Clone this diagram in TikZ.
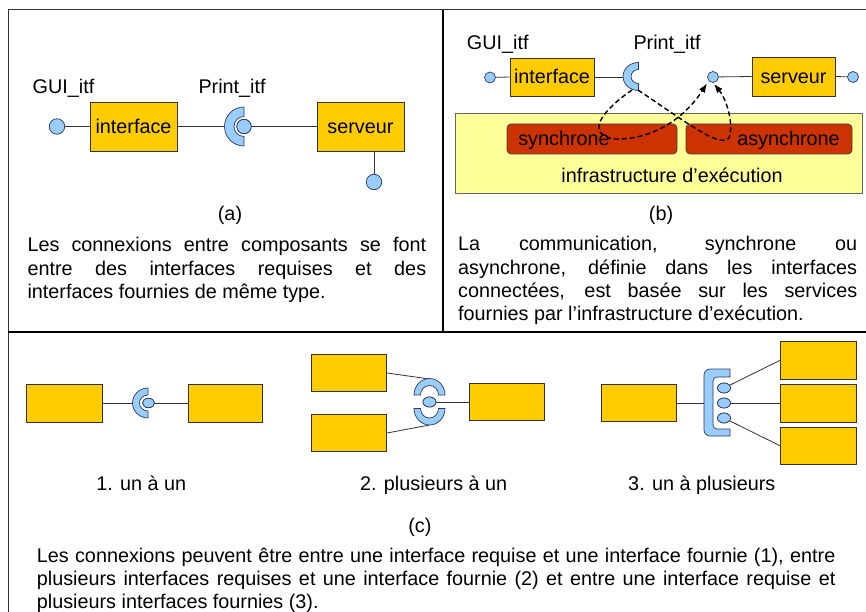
\documentclass[tikz,border=0pt]{standalone}
\usepackage{fontspec}
\setmainfont{Liberation Sans}
\usetikzlibrary{shapes.geometric,arrows.meta}
\definecolor{boxyellow}{HTML}{FFCC00}
\definecolor{ballblue}{HTML}{99CCFF}
\definecolor{ballrim}{HTML}{2B3A55}
\definecolor{infrayellow}{HTML}{FFFF99}
\definecolor{callred}{HTML}{CC3300}
\definecolor{wire}{HTML}{333333}
% one justified line of a paragraph
\newcommand\jline[2]{\makebox[#1][s]{#2}}
\begin{document}
\begin{tikzpicture}[x=1pt,y=-1pt,
  font=\fontsize{19.8}{23.3}\selectfont,
  comp/.style={draw=black!80, fill=boxyellow, line width=0.7pt, inner sep=0pt,
    text height=14pt, text depth=0pt},
  ball/.style={ellipse, draw=ballrim, fill=ballblue, line width=0.7pt, inner sep=0pt},
  sockfill/.style={draw=ballrim, fill=ballblue, line width=0.7pt},
  wireline/.style={draw=wire, line width=0.8pt},
  flow/.style={draw=black, line width=1.4pt, dash pattern=on 5pt off 3pt,
    -{Latex[length=9pt,width=7pt]}},
  lbl/.style={anchor=base, inner sep=0pt},
  lblw/.style={anchor=base west, inner sep=0pt},
  para/.style={anchor=base west, inner sep=0pt},
  infra/.style={draw=black!60, fill=infrayellow, line width=0.8pt, inner sep=0pt},
  call/.style={draw=black!75, fill=callred, rounded corners=4pt, line width=0.7pt, inner sep=0pt},
  framebold/.style={draw=black, line width=2.2pt},
  framethin/.style={draw=black!80, line width=1pt}]
\useasboundingbox (0,0) rectangle (866,612);

% ---------- frame ----------
\draw[framethin] (8,10) -- (866,10);
\draw[framethin] (8,10) -- (8,612);
\draw[draw=black, line width=1.5pt] (443,10) -- (443,332);
\draw[framebold] (8,332) -- (866,332);

% ---------- (a) ----------
\node[lblw] (guiA) at (32.5,93.3) {GUI\_itf};
\node[lblw] (printA) at (198.3,93.3) {Print\_itf};
\node[ball, minimum width=15.5pt, minimum height=15.5pt] (ballA1) at (57,126.5) {};
\node[comp, minimum width=87pt, minimum height=49pt] (ifA) at (133.5,126.5) {interface};
\node[comp, minimum width=87pt, minimum height=49pt] (srvA) at (360.5,126.5) {serveur};
\coordinate (sockAl) at (224.5,126.5);
\node[ball, minimum width=14.4pt, minimum height=14.4pt] (ballA2) at (244,126.5) {};
\node[ball, minimum width=15.5pt, minimum height=15.5pt] (ballA3) at (374,182) {};
\draw[wireline] (ballA1) -- (ifA.west);
\draw[wireline] (ifA.east) -- (sockAl);
\draw[wireline] (ballA2) -- (srvA.west);
\draw[wireline] (ballA3) -- (ballA3 |- srvA.south);
\path[sockfill] (244,107) arc[start angle=-90, end angle=-270, radius=19.5]
  -- (244,136.5) arc[start angle=90, end angle=270, radius=10] -- cycle;
\node[ball, minimum width=14.4pt, minimum height=14.4pt] at (ballA2) {};
\node[lbl] (capA) at (230,221) {(a)};
\node[para] (pa1) at (27.3,251.7) {\jline{398.7pt}{Les connexions entre composants se font}};
\node[para] (pa2) at (27.3,275) {\jline{398.7pt}{entre des interfaces requises et des}};
\node[para] (pa3) at (27.3,298.3) {interfaces fournies de même type.};

% ---------- (b) ----------
\node[lblw] (guiB) at (466.7,50) {GUI\_itf};
\node[lblw] (printB) at (633.3,50) {Print\_itf};
\node[infra, minimum width=407pt, minimum height=80pt] (infra) at (658.5,153) {};
\node[call, minimum width=170pt, minimum height=30pt] (sync) at (592,139) {};
\node[call, minimum width=166pt, minimum height=30pt] (async) at (769,139) {};
\node[lbl] (syncT) at (564,145.7) {synchrone};
\node[lbl] (asyncT) at (788.5,145.7) {asynchrone};
\node[lbl] (infraT) at (672,182.7) {infrastructure d’exécution};
\node[ball, minimum width=11pt, minimum height=11pt] (ballB1) at (490,77.5) {};
\node[comp, minimum width=84pt, minimum height=38pt] (ifB) at (552,77) {interface};
\node[comp, minimum width=83pt, minimum height=39pt] (srvB) at (793.5,76.5) {serveur};
\node[ball, minimum width=11pt, minimum height=11pt] (ballB2) at (713,77) {};
\node[ball, minimum width=11pt, minimum height=11pt] (ballB3) at (853,77) {};
\coordinate (sockBl) at (623,77);
\draw[wireline] (ballB1) -- (ifB.west);
\draw[wireline] (ifB.east) -- (sockBl);
\draw[wireline] (ballB2) -- (srvB.west);
\draw[wireline] (srvB.east) -- (ballB3);
\path[sockfill] (638.5,62.5) arc[start angle=-90, end angle=-270, x radius=15.5, y radius=14]
  -- (638.5,83.5) arc[start angle=90, end angle=270, x radius=7.5, y radius=7] -- cycle;
\coordinate (sockBa) at (632,90);
\coordinate (sockBb) at (638,90);
\coordinate (tipS) at (707,83.5);
\coordinate (tipA) at (714,84);
\draw[flow] (sockBa) .. controls (600,112) and (585,135) .. (615,139)
  .. controls (645,140) and (680,125) .. (tipS);
\draw[flow] (sockBb) .. controls (690,125) and (720,148) .. (729,138)
  .. controls (734,125) and (727,100) .. (tipA);
\node[lbl] (capB) at (661,221) {(b)};
\node[para] (pb1) at (458,250.7) {\jline{399pt}{La communication, synchrone ou}};
\node[para] (pb2) at (458,274) {\jline{399pt}{asynchrone, définie dans les interfaces}};
\node[para] (pb3) at (458,297.3) {\jline{399pt}{connectées, est basée sur les services}};
\node[para] (pb4) at (458,320.6) {fournies par l’infrastructure d’exécution.};

% ---------- (c) 1: one to one ----------
\node[comp, minimum width=75.5pt, minimum height=38pt] (c1a) at (64.2,403) {};
\node[comp, minimum width=74pt, minimum height=38pt] (c1b) at (225,403) {};
\coordinate (sockC1l) at (132.5,403);
\node[ball, minimum width=12pt, minimum height=9.4pt] (ballC1) at (148.5,403) {};
\draw[wireline] (c1a.east) -- (sockC1l);
\draw[wireline] (ballC1) -- (c1b.west);
\path[sockfill] (148,388) arc[start angle=-90, end angle=-270, x radius=15.5, y radius=15]
  -- (148,411) arc[start angle=90, end angle=270, x radius=8.5, y radius=8] -- cycle;
\node[ball, minimum width=12pt, minimum height=9.4pt] at (ballC1) {};
\node[lbl] (lc1) at (141.3,490) {1. un à un};

% ---------- (c) 2: several to one ----------
\node[comp, minimum width=75pt, minimum height=37.5pt] (c2t) at (349.3,373) {};
\node[comp, minimum width=75pt, minimum height=37.5pt] (c2b) at (349.3,433) {};
\node[comp, minimum width=75pt, minimum height=37.5pt] (c2r) at (506.7,401.7) {};
\coordinate (sockC2t) at (429.5,379);
\coordinate (sockC2b) at (429.5,425);
\node[ball, minimum width=13pt, minimum height=10pt] (ballC2) at (429.5,402) {};
\draw[wireline] (c2t.east) -- (sockC2t);
\draw[wireline] (c2b.east) -- (sockC2b);
\draw[wireline] (ballC2) -- (c2r.west |- ballC2);
\path[sockfill] (414,395) arc[start angle=180, end angle=360, x radius=15.5, y radius=16.5]
  -- (438.5,395) arc[start angle=360, end angle=180, x radius=9, y radius=9.5] -- cycle;
\path[sockfill] (414,408.5) arc[start angle=180, end angle=0, x radius=15.5, y radius=16.5]
  -- (438.5,408.5) arc[start angle=0, end angle=180, x radius=9, y radius=9.5] -- cycle;
\node[ball, minimum width=13pt, minimum height=10pt] at (ballC2) {};
\node[lbl] (lc2) at (433.7,490) {2. plusieurs à un};

% ---------- (c) 3: one to several ----------
\node[comp, minimum width=75pt, minimum height=37.5pt] (c3l) at (639.3,403) {};
\node[comp, minimum width=75.5pt, minimum height=37.5pt] (c3r1) at (818.2,360.3) {};
\node[comp, minimum width=75.5pt, minimum height=37.5pt] (c3r2) at (818.2,403.2) {};
\node[comp, minimum width=75.5pt, minimum height=37.5pt] (c3r3) at (818.2,445.8) {};
\coordinate (brkl) at (704,403);
\node[ball, minimum width=13pt, minimum height=10pt] (b31) at (724,388) {};
\node[ball, minimum width=13pt, minimum height=10pt] (b32) at (724,403) {};
\node[ball, minimum width=13pt, minimum height=10pt] (b33) at (724,418) {};
\draw[wireline] (c3l.east) -- (brkl);
\draw[wireline] (b31) -- (c3r1.west);
\draw[wireline] (b32) -- (c3r2.west |- b32);
\draw[wireline] (b33) -- (c3r3.west);
\path[sockfill] (730,369) -- (710,369) arc[start angle=-90, end angle=-180, radius=6]
  -- (704,430) arc[start angle=180, end angle=90, radius=6]
  -- (730,436) -- (730,429) -- (717,429) arc[start angle=90, end angle=180, radius=4]
  -- (713,381) arc[start angle=180, end angle=270, radius=4]
  -- (730,377) -- cycle;
\node[ball, minimum width=13pt, minimum height=10pt] at (b31) {};
\node[ball, minimum width=13pt, minimum height=10pt] at (b32) {};
\node[ball, minimum width=13pt, minimum height=10pt] at (b33) {};
\node[lbl] (lc3) at (701.8,490) {3. un à plusieurs};

% ---------- caption (c) ----------
\node[lbl] (capC) at (419.8,532.5) {(c)};
\node[para] (pc1) at (36.7,562.7) {\jline{798.5pt}{Les connexions peuvent être entre une interface requise et une interface fournie (1), entre}};
\node[para] (pc2) at (36.7,585.5) {\jline{798.5pt}{plusieurs interfaces requises et une interface fournie (2) et entre une interface requise et}};
\node[para] (pc3) at (36.7,608.5) {plusieurs interfaces fournies (3).};
\end{tikzpicture}
\end{document}
